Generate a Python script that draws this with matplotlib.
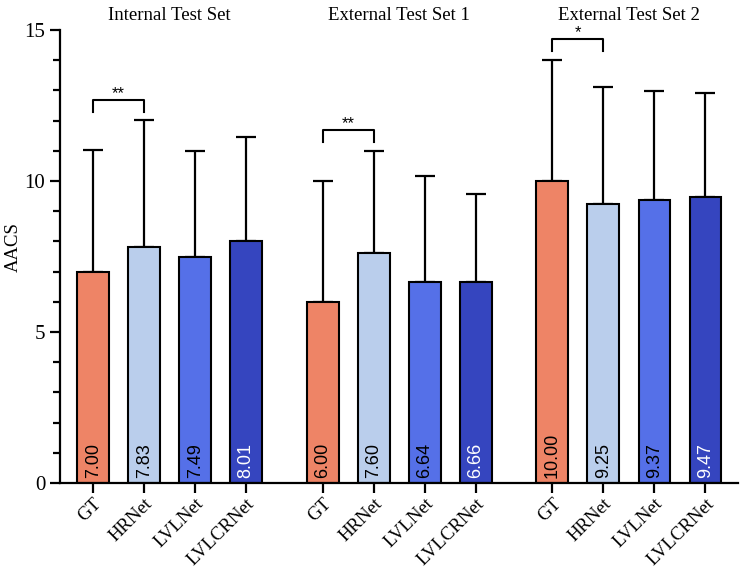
import matplotlib.pyplot as plt
from matplotlib.ticker import MultipleLocator

models = ['GT', 'HRNet', 'LVLNet', 'LVLCRNet']
sets = ['Internal Test Set', 'External Test Set 1', 'External Test Set 2']
means = [[7.00, 7.83, 7.49, 8.01],
         [6.00, 7.60, 6.64, 6.66],
         [10.00, 9.25, 9.37, 9.47]]
sds = [[4.02, 4.20, 3.49, 3.44],
       [4.01, 3.38, 3.51, 2.92],
       [4.00, 3.85, 3.60, 3.43]]
# significance brackets: (set index, from model, to model, y, label)
sig = [(0, 0, 1, 12.68, '**'),
       (1, 0, 1, 11.69, '**'),
       (2, 0, 1, 14.70, '*')]

colors = ['#EE8466', '#BACEEC', '#5570E8', '#3545BF']
text_colors = ['black', 'black', 'black', 'white']

fig = plt.figure(figsize=(7.44, 5.72), dpi=100)
ax = fig.add_axes([0.0806, 0.1556, 0.912, 0.792])

serif = 'Liberation Serif'
width = 0.62

xticks, xlabels = [], []
for g, name in enumerate(sets):
    xs = [g * 4.5 + i for i in range(4)]
    ax.bar(xs, means[g], width=width, color=colors, edgecolor='black',
           linewidth=1.5, zorder=2)
    ax.errorbar(xs, means[g], yerr=[[0] * 4, sds[g]], fmt='none',
                ecolor='black', elinewidth=1.6, capsize=7, capthick=1.6,
                zorder=1)
    for i, x in enumerate(xs):
        ax.text(x, 0.15, f'{means[g][i]:.2f}', rotation=90, ha='center',
                va='bottom', fontsize=13, color=text_colors[i],
                family='Liberation Sans', zorder=3)
    ax.text((xs[0] + xs[-1]) / 2, 15.33, name, ha='center', va='baseline',
            fontsize=13.5, family=serif)
    xticks += xs
    xlabels += models

for g, a, b, y, lab in sig:
    x1, x2 = g * 4.5 + a, g * 4.5 + b
    ax.plot([x1, x1, x2, x2], [y - 0.4, y, y, y - 0.4], color='black',
            linewidth=1.5, clip_on=False)
    ax.text((x1 + x2) / 2, y + 0.06, lab, ha='center', va='baseline',
            fontsize=12, family='Liberation Sans', clip_on=False)

ax.set_xlim(-0.65, 12.65)
ax.set_ylim(0, 15)
ax.set_xticks(xticks)
ax.set_xticklabels(xlabels, rotation=45, ha='right', rotation_mode='anchor',
                   fontsize=13.5, family=serif)
ax.set_yticks([0, 5, 10, 15])
ax.set_yticklabels(['0', '5', '10', '15'], fontsize=15, family=serif)
ax.yaxis.set_minor_locator(MultipleLocator(1))
ax.set_ylabel('AACS', fontsize=13.5, family=serif)
ax.yaxis.set_label_coords(-0.056, 0.52)

ax.spines['top'].set_visible(False)
ax.spines['right'].set_visible(False)
ax.spines['left'].set_linewidth(1.6)
ax.spines['bottom'].set_linewidth(1.6)
ax.tick_params(axis='both', which='major', width=1.6, length=7, direction='out')
ax.tick_params(axis='x', which='major', pad=2)
ax.tick_params(axis='y', which='minor', width=1.6, length=5)

fig.savefig('out.png', dpi=100)
